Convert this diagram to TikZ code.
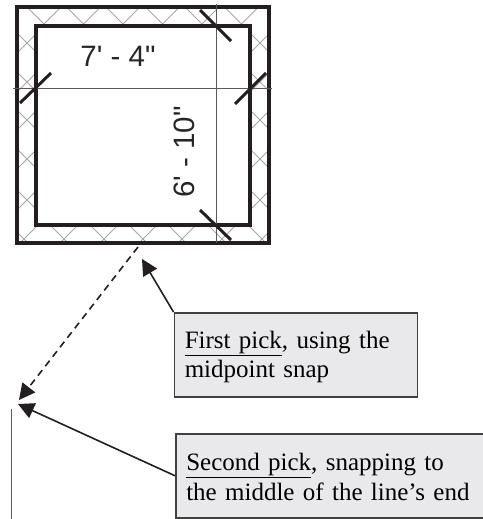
\documentclass[tikz,border=0pt]{standalone}
\usepackage{fontspec}
\setmainfont{Liberation Serif}
\newfontfamily\dimfont{Liberation Sans}
\usepackage{xcolor}
\usetikzlibrary{arrows.meta,positioning}
\definecolor{wallink}{HTML}{231F20}
\definecolor{calloutfill}{HTML}{E9E9EB}
\tikzset{
    wall/.style={draw=wallink, line width=4pt},
    dimline/.style={draw=black!65, line width=1pt},
    dimtick/.style={draw=wallink, line width=3pt},
    hatch/.style={draw=black!35, line width=0.8pt},
    dimtext/.style={font=\dimfont\fontsize{29.5}{30}\selectfont, text=black!85, inner sep=0pt},
    callout/.style={draw=black!75, line width=1.5pt, fill=calloutfill, anchor=north west, align=left, inner ysep=0pt, inner xsep=10.5pt, minimum height=84pt, font=\fontsize{25}{29.5}\selectfont},
    pick/.style={-{Triangle[length=16pt,width=16pt]}, draw=wallink, line width=1.6pt},
}
\begin{document}
\begin{tikzpicture}[x=1pt, y=-1pt]
    \useasboundingbox (0,0) rectangle (482,519);

    % Hatch
    \begin{scope}[even odd rule]
        \clip (17,7) rectangle (269,243) (36,26) rectangle (250,225);
        \foreach \cx in {44,83.5,123,162.5,202,241.5}
            \draw [hatch] (\cx-20,4) -- (\cx,24) -- (\cx+20,4);
        \foreach \cx in {24,64,104,143,182,222,262} {
            \draw [hatch] (\cx-15,224) -- (\cx+15,254);
            \draw [hatch] (\cx+15,224) -- (\cx-15,254);
        }
        \foreach \cy in {43,82,120,159,200} {
            \draw [hatch] (12,\cy-15) -- (42,\cy+15);
            \draw [hatch] (42,\cy-15) -- (12,\cy+15);
            \draw [hatch] (245,\cy-15) -- (275,\cy+15);
            \draw [hatch] (275,\cy-15) -- (245,\cy+15);
        }
    \end{scope}

    % Walls
    \draw [wall] (17,7) rectangle (269,243);
    \draw [wall] (36,26) rectangle (250,225);

    % Dimensions
    \draw [dimline] (13,88.5) -- (272,88.5);
    \draw [dimline] (216,4) -- (216,243);
    \draw [dimtick] (200,10) -- (231,41);
    \draw [dimtick] (200,210) -- (231,240);
    \draw [dimtick] (20,103) -- (51,73);
    \draw [dimtick] (235,104) -- (266,73);
    \node [dimtext] (widthlabel) at (118,56) {7' - 4"};
    \node [dimtext, rotate=90] (heightlabel) at (184,152) {6' - 10"};

    % Line
    \coordinate (linetop) at (11,409);
    \coordinate (linebottom) at (11,519);
    \draw [dimline] (linetop) -- (linebottom);

    % Callouts
    \node [callout, text width=222pt] (firstpick) at (173.5,312) {\rule{0pt}{22pt}\underline{First pick}, using the\\midpoint snap};
    \node [callout, text width=300pt] (secondpick) at (175,433) {\rule{0pt}{20pt}\underline{Second pick}, snapping to\\the middle of the line's end};

    % Path
    \coordinate (dashstart) at (138,247);
    \coordinate (dashend) at (19,400);
    \coordinate (firstend) at (142,259);
    \coordinate (secondend) at (18,404);
    \draw [pick, dashed, dash pattern=on 7pt off 5pt] (dashstart) -- (dashend);
    \draw [pick] (firstpick.north west) -- (firstend);
    \draw [pick] (secondpick.west) -- (secondend);
\end{tikzpicture}
\end{document}
